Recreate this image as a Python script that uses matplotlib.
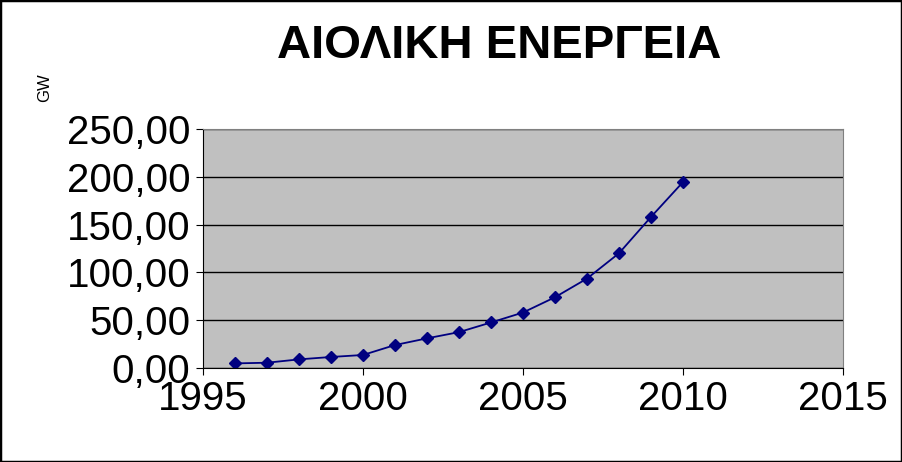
import matplotlib
matplotlib.use("Agg")
import matplotlib.pyplot as plt
from matplotlib.patches import Rectangle

years = [1996, 1997, 1998, 1999, 2000, 2001, 2002, 2003, 2004, 2005, 2006, 2007, 2008, 2009, 2010]
gw = [4.8, 5.5, 9.0, 11.5, 13.6, 24.0, 31.0, 37.5, 47.6, 58.0, 74.0, 93.5, 120.0, 158.0, 194.5]
yticks = [0, 50, 100, 150, 200, 250]
xticks = [1995, 2000, 2005, 2010, 2015]

plt.rcParams["font.family"] = "Liberation Sans"
fig = plt.figure(figsize=(9.02, 4.62), dpi=100)
fig.patches.append(Rectangle((0, 0), 1, 1, transform=fig.transFigure, fill=False,
                             edgecolor="black", linewidth=2.5))
ax = fig.add_axes([0.225, 0.2035, 0.7096, 0.5173])
ax.set_facecolor("#c0c0c0")
ax.plot(years, gw, color="#000080", marker="D", markersize=6, linewidth=1.3)
ax.set_xlim(1995, 2015)
ax.set_ylim(0, 250)
ax.set_xticks(xticks)
ax.set_yticks(yticks)
ax.set_yticklabels([f"{v:.2f}".replace(".", ",") for v in yticks])
ax.yaxis.grid(True, color="black", linewidth=1)
ax.set_axisbelow(True)
ax.tick_params(labelsize=29, length=5, direction="out", colors="black", pad=4)
for s in ax.spines.values():
    s.set_color("gray")
ax.spines["left"].set_color("black")
ax.spines["bottom"].set_color("black")
fig.text(0.553, 0.9, "ΑΙΟΛΙΚΗ ΕΝΕΡΓΕΙΑ", ha="center", va="center", fontsize=34, fontweight="bold")
fig.text(0.05, 0.81, "GW", rotation=90, ha="center", va="center", fontsize=12)
fig.savefig("out.png", dpi=100)
